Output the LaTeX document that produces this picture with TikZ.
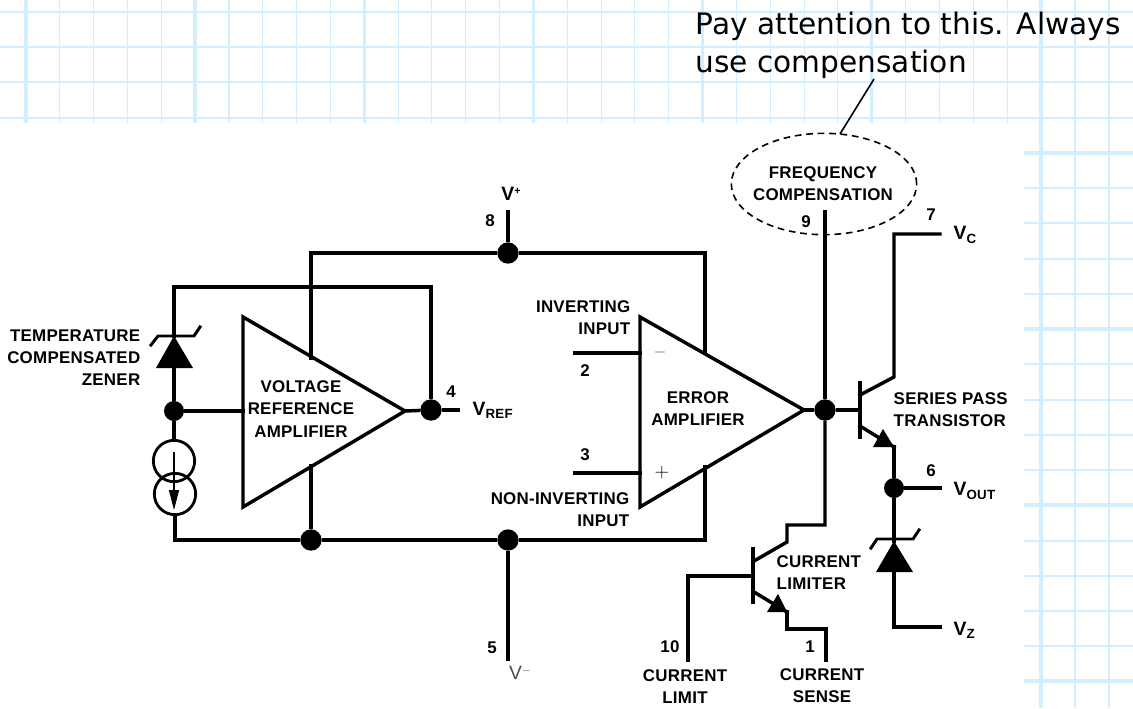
\documentclass[tikz,border=0pt]{standalone}
\usepackage{fontspec}
\setmainfont[LetterSpace=1.5]{Liberation Sans}
\newfontfamily\notefont{DejaVu Sans}
\usepackage{tikz}
\usetikzlibrary{arrows.meta,shapes.geometric}
\definecolor{gridblue}{HTML}{D2EEFF}
\newcommand{\vsub}[1]{{\fontsize{14.5}{14.5}\selectfont V}\raisebox{-2.4pt}{\fontsize{10}{10}\selectfont #1}}
\newcommand{\vsup}[1]{{\fontsize{14.5}{14.5}\selectfont V}\raisebox{4.5pt}{\fontsize{8}{8}\selectfont #1}}

\tikzset{
  jdot/.style={circle,fill,draw=none,inner sep=0pt,minimum size=16pt},
  sdot/.style={circle,fill,draw=none,inner sep=0pt,minimum size=15pt},
  lbl/.style={font=\bfseries\fontsize{12.7}{16.6}\selectfont,inner sep=0pt},
  note/.style={font=\notefont\fontsize{22.2}{28.5}\selectfont,inner sep=0pt,align=left},
  minorline/.style={gridblue,line width=0.8pt},
  majorline/.style={gridblue,line width=2.6pt}
}

\begin{document}
\begin{tikzpicture}[x=0.75pt,y=-0.75pt,line width=2.6pt,line cap=rect,line join=miter]
  \useasboundingbox (0,0) rectangle (1133,708);

  % squared paper
  \begin{scope}[line cap=butt]
  \foreach \y in {12,47,82,118}
     \draw[minorline] (0,\y) -- (1133,\y);
  \foreach \k in {0,...,29}{
     \pgfmathsetmacro{\xg}{26+33.83*\k}
     \pgfmathparse{int(mod(\k,5))}
     \ifnum\pgfmathresult=0
       \draw[majorline] (\xg,0) -- (\xg,123);
     \else
       \draw[minorline] (\xg,0) -- (\xg,123);
     \fi}
  \foreach \y in {188,223,259,294,364,400,435,470,541,576,611,646}
     \draw[minorline] (1024,\y) -- (1133,\y);
  \foreach \y in {153,329,505,681}
     \draw[majorline] (1024,\y) -- (1133,\y);
  \draw[majorline] (1041,0) -- (1041,708);
  \draw[minorline] (1075,0) -- (1075,708);
  \draw[minorline] (1109,0) -- (1109,708);
  \end{scope}

  % power rails
  \node[jdot] (vplus) at (508,253) {};
  \node[jdot] (vminus) at (508,540) {};
  \node[jdot] (vrefdot) at (431,410) {};
  \node[sdot] (zenerdot) at (174,411) {};
  \node[jdot] (raildot) at (311,540) {};
  \node[jdot] (outdot) at (825,410) {};
  \node[sdot] (vout) at (894,488) {};

  \coordinate (pin8) at (508,212);
  \coordinate (pin5) at (508,659);
  \coordinate (pin4) at (458,410);
  \coordinate (pin9) at (825,212);
  \coordinate (pin2) at (575,353);
  \coordinate (pin3) at (575,473);
  \coordinate (pin6) at (940,488);
  \coordinate (pin2end) at (640,353);
  \coordinate (pin3end) at (640,473);

  % amplifiers
  \coordinate (refa) at (243,317);
  \coordinate (refb) at (243,507);
  \coordinate (refc) at (405,411);
  \coordinate (erra) at (640,317);
  \coordinate (errb) at (640,507);
  \coordinate (errc) at (804,410);
  \draw (refa) -- (refb) -- (refc) -- cycle;
  \draw (erra) -- (errb) -- (errc) -- cycle;

  \coordinate (refin) at (243,411);
  \coordinate (refup) at (311,358);
  \coordinate (reflow) at (311,466);
  \coordinate (errup) at (705,353);
  \coordinate (errlow) at (705,467);

  % zener on the left
  \coordinate (zkath) at (174,336);
  \coordinate (zanode) at (174,368);
  \fill (zkath) -- (193,368) -- (156,368) -- cycle;
  \draw[line width=2.2pt] (151,345) -- (158,336) -- (194,336) -- (200,327);
  \node[circle,draw,line width=2.1pt,minimum size=31pt,inner sep=0pt] (csup) at (174,461) {};
  \node[circle,draw,line width=2.1pt,minimum size=31pt,inner sep=0pt] (cslow) at (175,494) {};
  \draw[line width=0.9pt,line cap=butt,-{Triangle[length=15pt,width=7.5pt]}] (174,452) -- (174,510);

  \draw (zkath) |- (431,287) -- (vrefdot);
  \draw (zanode) -- (zenerdot);
  \draw (zenerdot) -- (csup);
  \draw (cslow.south) |- (raildot);
  \draw (311,253) -- (vplus);
  \draw (refup) -- (311,253);
  \draw (vplus) -| (errup);
  \draw (reflow) -- (raildot);
  \draw (errlow) |- (vminus);

  \foreach \from/\to in {pin8/vplus, raildot/vminus, vminus/pin5, zenerdot/refin, refc/vrefdot,
                         vrefdot/pin4, pin2/pin2end, pin3/pin3end, errc/outdot, pin9/outdot}
     \draw (\from) -- (\to);

  % series pass transistor
  \coordinate (qbase) at (860,410);
  \coordinate (qcoll) at (860,395);
  \coordinate (qemit) at (860,426);
  \coordinate (qtip) at (894,447);
  \draw (860,383) -- (860,437);
  \draw (qcoll) -- (894,377) -- (894,234) -- (940,234);
  \draw (qemit) -- (qtip);
  \fill (883,429) -- (894,447) -- (873,447) -- cycle;
  \draw (outdot) -- (qbase);
  \draw (qtip) -- (vout);
  \draw (vout) -- (pin6);

  % output zener
  \coordinate (okath) at (894,541);
  \fill (okath) -- (913,572) -- (876,572) -- cycle;
  \draw[line width=2.2pt] (871,548) -- (877,539) -- (913,539) -- (919,530);
  \draw (vout) -- (okath);
  \draw (894,572) |- (940,627);

  % current limiter
  \coordinate (lbase) at (753,576);
  \coordinate (lcoll) at (754,561);
  \coordinate (lemit) at (754,592);
  \coordinate (ltip) at (787,612);
  \draw (753,549) -- (753,602);
  \draw (outdot) |- (787,525) -- (787,542) -- (lcoll);
  \draw (lbase) -| (688,660);
  \draw (lemit) -- (ltip);
  \fill (778,594) -- (787,612) -- (767,612) -- cycle;
  \draw (ltip) |- (826,629) -- (826,660);

  % labels
  \node[lbl,align=right,anchor=east] (tempzener) at (142,358) {TEMPERATURE\\COMPENSATED\\ZENER};
  \node[lbl,align=center] (reflabel) at (301,409) {VOLTAGE\\REFERENCE\\AMPLIFIER};
  \node[lbl,align=center] (errlabel) at (698,409) {ERROR\\AMPLIFIER};
  \node[lbl,align=right,anchor=east] (invlabel) at (632,318) {INVERTING\\INPUT};
  \node[lbl,align=right,anchor=east] (noninv) at (631,510) {NON-INVERTING\\INPUT};
  \node[lbl,align=center] (freqlabel) at (823,184) {FREQUENCY\\COMPENSATION};
  \node[lbl,align=left,anchor=west] (serieslabel) at (892,410) {SERIES PASS\\TRANSISTOR};
  \node[lbl,align=left,anchor=west] (limlabel) at (775,573) {CURRENT\\LIMITER};
  \node[lbl,align=center] (limit) at (685,687) {CURRENT\\LIMIT};
  \node[lbl,align=center] (sense) at (822,686) {CURRENT\\SENSE};

  \node[lbl] (n8) at (490,221) {8};
  \node[lbl] (n5) at (492,648) {5};
  \node[lbl] (n4) at (451,392) {4};
  \node[lbl] (n2) at (585,371) {2};
  \node[lbl] (n3) at (585,455) {3};
  \node[lbl] (n9) at (806,222) {9};
  \node[lbl] (n7) at (931,215) {7};
  \node[lbl] (n6) at (931,471) {6};
  \node[lbl] (n10) at (670,647) {10};
  \node[lbl] (n1) at (810,647) {1};

  \node[lbl] (vplabel) at (511,194) {\vsup{+}};
  \node[font=\fontsize{12.6}{14}\selectfont,inner sep=0pt,black!70] (vmlabel) at (520,673) {\vsup{$-$}};
  \node[lbl,anchor=west] (vreflabel) at (471,410) {\vsub{REF}};
  \node[lbl,anchor=west] (vclabel) at (952,235) {\vsub{C}};
  \node[lbl,anchor=west] (voutlabel) at (952,491) {\vsub{OUT}};
  \node[lbl,anchor=west] (vzlabel) at (952,630) {\vsub{Z}};
  \node[font=\fontsize{13}{13}\selectfont,inner sep=0pt,black!70] (minus) at (660,352) {$-$};
  \node[font=\fontsize{14}{14}\selectfont,inner sep=0pt] (plus) at (662,473) {$+$};

  % remark
  \node[draw,dash pattern=on 5pt off 3.6pt,ellipse,line width=1.2pt,line cap=butt,minimum width=139pt,minimum height=76pt,inner sep=0pt] (freqring) at (824,184) {};
  \node[note,anchor=north west] (remark) at (694,10) {Pay attention to this. Always\\use compensation};
  \coordinate (remarkend) at (874,79);
  \draw[line width=1.2pt,line cap=butt] (remarkend) -- (840,134);
\end{tikzpicture}
\end{document}
